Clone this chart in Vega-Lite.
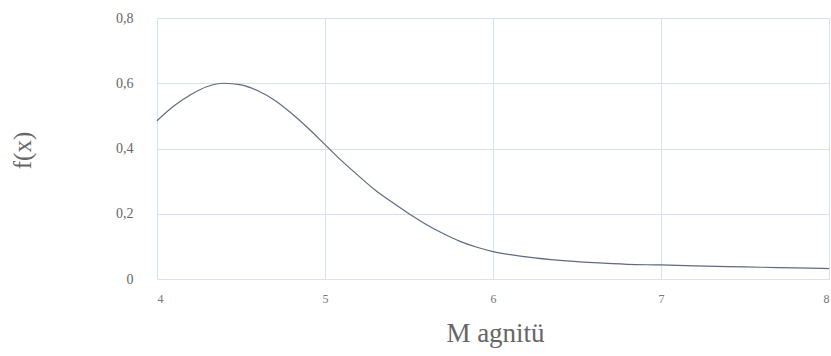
{
  "$schema": "https://vega.github.io/schema/vega-lite/v6.json",
  "width": 672,
  "height": 261,
  "autosize": "none",
  "padding": {"left": 157, "top": 18, "right": 2, "bottom": 77},
  "background": "white",
  "config": {
    "view": {"stroke": null},
    "font": "Liberation Serif"
  },
  "data": {
    "values": [
      {"m": 4.0, "f": 0.485},
      {"m": 4.1, "f": 0.53},
      {"m": 4.2, "f": 0.565},
      {"m": 4.3, "f": 0.59},
      {"m": 4.4, "f": 0.6},
      {"m": 4.5, "f": 0.595},
      {"m": 4.6, "f": 0.577},
      {"m": 4.7, "f": 0.548},
      {"m": 4.8, "f": 0.508},
      {"m": 4.9, "f": 0.462},
      {"m": 5.0, "f": 0.412},
      {"m": 5.1, "f": 0.362},
      {"m": 5.2, "f": 0.316},
      {"m": 5.3, "f": 0.272},
      {"m": 5.4, "f": 0.235},
      {"m": 5.5, "f": 0.2},
      {"m": 5.6, "f": 0.168},
      {"m": 5.7, "f": 0.14},
      {"m": 5.8, "f": 0.116},
      {"m": 5.9, "f": 0.098},
      {"m": 6.0, "f": 0.084},
      {"m": 6.2, "f": 0.068},
      {"m": 6.4, "f": 0.057},
      {"m": 6.6, "f": 0.05},
      {"m": 6.8, "f": 0.045},
      {"m": 7.0, "f": 0.043},
      {"m": 7.2, "f": 0.04},
      {"m": 7.4, "f": 0.038},
      {"m": 7.6, "f": 0.036},
      {"m": 7.8, "f": 0.034},
      {"m": 8.0, "f": 0.032}
    ]
  },
  "mark": {"type": "line", "color": "#5f6b7c", "strokeWidth": 1.2, "interpolate": "monotone"},
  "encoding": {
    "x": {
      "field": "m",
      "type": "quantitative",
      "scale": {"domain": [4, 8], "nice": false, "zero": false},
      "axis": {
        "values": [4, 5, 6, 7, 8],
        "title": "M agnitü",
        "titleFont": "Liberation Serif",
        "titleFontSize": 27,
        "titleFontWeight": "normal",
        "titleColor": "#666666",
        "titleX": 338,
        "titleY": 62,
        "titleBaseline": "alphabetic",
        "titleAnchor": "middle",
        "labelFont": "Liberation Serif",
        "labelFontSize": 12,
        "labelColor": "#777777",
        "labelPadding": 14,
        "ticks": false,
        "domain": false,
        "grid": true,
        "gridColor": "#d4e2f3",
        "gridWidth": 1
      }
    },
    "y": {
      "field": "f",
      "type": "quantitative",
      "scale": {"domain": [0, 0.8], "nice": false},
      "axis": {
        "values": [0, 0.2, 0.4, 0.6, 0.8],
        "labelExpr": "datum.value == 0 ? '0' : replace(format(datum.value, '.1f'), '.', ',')",
        "title": "f(x)",
        "titleFont": "Liberation Serif",
        "titleFontSize": 25,
        "titleFontWeight": "normal",
        "titleColor": "#666666",
        "titleX": -135,
        "titleY": 132,
        "titleAngle": -90,
        "titleBaseline": "middle",
        "titleAnchor": "middle",
        "labelFont": "Liberation Serif",
        "labelFontSize": 14,
        "labelColor": "#666666",
        "labelPadding": 24,
        "ticks": false,
        "domain": false,
        "grid": true,
        "gridColor": "#d4e2f3",
        "gridWidth": 1
      }
    }
  }
}
